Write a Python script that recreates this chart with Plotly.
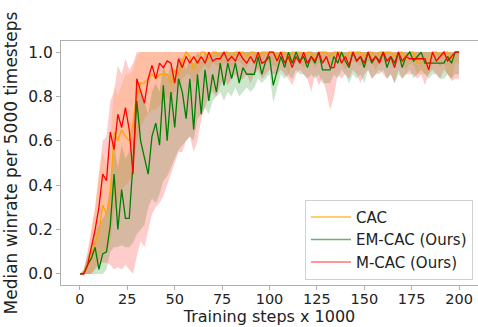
import plotly.graph_objects as go

x_steps = list(range(0, 201, 2))

cac_median = [0, 0, 0.03, 0.08, 0.13, 0.19, 0.31, 0.27, 0.36, 0.64,
              0.6, 0.65, 0.62, 0.6, 0.68, 0.8, 0.86, 0.86, 0.88, 0.9,
              0.88, 0.9, 0.9, 0.9, 0.86, 0.92, 0.9, 0.96, 1.0, 0.98,
              0.92, 0.96, 1.0, 1.0, 0.97, 1.0, 1.0, 0.98, 1.0, 1.0,
              0.97, 1.0, 1.0, 1.0, 0.98, 1.0, 1.0, 0.97, 1.0, 1.0,
              1.0, 1.0, 0.98, 1.0, 1.0, 0.96, 1.0, 1.0, 1.0, 0.98,
              1.0, 1.0, 0.97, 1.0, 1.0, 1.0, 0.98, 1.0, 1.0, 1.0,
              0.97, 1.0, 1.0, 1.0, 1.0, 0.98, 1.0, 1.0, 0.97, 1.0,
              1.0, 1.0, 1.0, 0.98, 1.0, 1.0, 0.97, 1.0, 1.0, 0.95,
              0.95, 0.95, 0.95, 1.0, 1.0, 0.98, 1.0, 1.0, 0.97, 1.0, 1.0]
cac_low = [0, 0, 0, 0, 0.03, 0.06, 0.1, 0.1, 0.14, 0.28,
           0.32, 0.38, 0.4, 0.42, 0.45, 0.6, 0.66, 0.7, 0.72, 0.74,
           0.74, 0.76, 0.78, 0.8, 0.78, 0.82, 0.84, 0.88, 0.9, 0.9,
           0.86, 0.9, 0.92, 0.94, 0.92, 0.95, 0.94, 0.93, 0.95, 0.95,
           0.93, 0.95, 0.96, 0.94, 0.93, 0.96, 0.95, 0.92, 0.95, 0.96,
           0.95, 0.94, 0.93, 0.96, 0.95, 0.9, 0.95, 0.96, 0.95, 0.93,
           0.95, 0.96, 0.93, 0.95, 0.96, 0.95, 0.93, 0.95, 0.96, 0.95,
           0.92, 0.95, 0.96, 0.95, 0.94, 0.93, 0.96, 0.95, 0.92, 0.95,
           0.96, 0.95, 0.95, 0.93, 0.96, 0.95, 0.92, 0.95, 0.94, 0.9,
           0.9, 0.9, 0.9, 0.95, 0.96, 0.93, 0.95, 0.9, 0.88, 0.95, 0.95]
cac_high = [0, 0.02, 0.08, 0.2, 0.3, 0.45, 0.55, 0.5, 0.6, 0.85,
            0.8, 0.85, 0.9, 0.9, 0.92, 0.98, 1.0, 1.0, 1.0, 1.0,
            1.0, 1.0, 1.0, 1.0, 1.0, 1.0, 1.0, 1.0, 1.0, 1.0,
            1.0, 1.0, 1.0, 1.0, 1.0, 1.0, 1.0, 1.0, 1.0, 1.0,
            1.0, 1.0, 1.0, 1.0, 1.0, 1.0, 1.0, 1.0, 1.0, 1.0,
            1.0, 1.0, 1.0, 1.0, 1.0, 1.0, 1.0, 1.0, 1.0, 1.0,
            1.0, 1.0, 1.0, 1.0, 1.0, 1.0, 1.0, 1.0, 1.0, 1.0,
            1.0, 1.0, 1.0, 1.0, 1.0, 1.0, 1.0, 1.0, 1.0, 1.0,
            1.0, 1.0, 1.0, 1.0, 1.0, 1.0, 1.0, 1.0, 1.0, 1.0,
            1.0, 1.0, 1.0, 1.0, 1.0, 1.0, 1.0, 1.0, 1.0, 1.0, 1.0]

emcac_median = [0, 0, 0.04, 0.07, 0.12, 0.02, 0.09, 0.1, 0.22, 0.45,
                0.2, 0.38, 0.25, 0.25, 0.5, 0.78, 0.6, 0.52, 0.45, 0.62,
                0.68, 0.58, 0.85, 0.6, 0.82, 0.66, 0.88, 0.82, 0.7, 0.88,
                0.65, 0.9, 0.72, 0.92, 0.78, 0.9, 0.82, 0.95, 0.85, 0.95,
                0.88, 0.95, 0.86, 0.93, 0.9, 0.9, 0.9, 0.98, 0.9, 0.96,
                0.98, 0.85, 0.92, 0.98, 0.93, 1.0, 0.95, 1.0, 0.96, 0.98,
                0.93, 0.98, 0.95, 1.0, 0.92, 0.92, 0.92, 0.98, 0.95, 1.0,
                0.96, 0.93, 1.0, 0.96, 0.98, 0.93, 1.0, 0.95, 0.98, 0.96,
                1.0, 0.93, 0.98, 0.95, 1.0, 0.93, 0.98, 1.0, 0.96, 0.98,
                1.0, 0.95, 0.95, 0.95, 0.95, 0.95, 0.95, 0.98, 0.95, 1.0, 1.0]
emcac_low = [0, 0, 0, 0, 0, 0, 0, 0.02, 0.1, 0.12,
             0.12, 0.13, 0.12, 0.12, 0.14, 0.18, 0.2, 0.22, 0.3, 0.34,
             0.32, 0.36, 0.42, 0.44, 0.48, 0.52, 0.56, 0.58, 0.6, 0.62,
             0.6, 0.7, 0.72, 0.75, 0.72, 0.78, 0.8, 0.82, 0.78, 0.82,
             0.8, 0.84, 0.8, 0.82, 0.84, 0.82, 0.84, 0.88, 0.86, 0.88,
             0.9, 0.77, 0.84, 0.9, 0.88, 0.9, 0.88, 0.92, 0.9, 0.9,
             0.88, 0.9, 0.88, 0.9, 0.86, 0.86, 0.86, 0.9, 0.88, 0.92,
             0.9, 0.86, 0.9, 0.88, 0.9, 0.86, 0.92, 0.88, 0.9, 0.9,
             0.92, 0.88, 0.9, 0.86, 0.9, 0.88, 0.9, 0.92, 0.88, 0.9,
             0.92, 0.9, 0.88, 0.9, 0.9, 0.88, 0.88, 0.9, 0.88, 0.9, 0.9]
emcac_high = [0, 0.02, 0.08, 0.12, 0.2, 0.22, 0.25, 0.28, 0.4, 0.58,
              0.48, 0.58, 0.52, 0.55, 0.68, 0.88, 0.82, 0.78, 0.72, 0.82,
              0.86, 0.82, 0.95, 0.88, 0.95, 0.9, 0.98, 0.97, 0.92, 0.98,
              0.95, 1.0, 0.96, 1.0, 0.97, 1.0, 1.0, 1.0, 1.0, 1.0,
              1.0, 1.0, 1.0, 1.0, 1.0, 1.0, 1.0, 1.0, 1.0, 1.0,
              1.0, 1.0, 1.0, 1.0, 1.0, 1.0, 1.0, 1.0, 1.0, 1.0,
              1.0, 1.0, 1.0, 1.0, 1.0, 1.0, 1.0, 1.0, 1.0, 1.0,
              1.0, 1.0, 1.0, 1.0, 1.0, 1.0, 1.0, 1.0, 1.0, 1.0,
              1.0, 1.0, 1.0, 1.0, 1.0, 1.0, 1.0, 1.0, 1.0, 1.0,
              1.0, 1.0, 1.0, 1.0, 1.0, 1.0, 1.0, 1.0, 1.0, 1.0, 1.0]

mcac_median = [0, 0, 0.04, 0.12, 0.2, 0.3, 0.45, 0.42, 0.64, 0.56,
               0.72, 0.66, 0.75, 0.65, 0.45, 0.88, 0.82, 0.77, 0.88, 0.94,
               0.88, 0.95, 0.93, 0.96, 0.95, 0.86, 0.97, 0.93, 0.98, 0.95,
               0.98, 0.95, 0.98, 0.95, 1.0, 0.96, 0.97, 0.97, 1.0, 0.96,
               0.98, 0.96, 1.0, 0.97, 0.95, 0.98, 0.95, 1.0, 0.95, 0.96,
               1.0, 1.0, 0.96, 1.0, 0.95, 0.98, 0.93, 0.98, 0.95, 1.0,
               0.95, 0.98, 0.96, 1.0, 0.95, 0.98, 0.93, 0.93, 1.0, 0.95,
               0.98, 0.94, 1.0, 0.96, 0.98, 0.95, 1.0, 0.96, 0.98, 0.95,
               1.0, 0.96, 0.98, 0.93, 1.0, 0.96, 0.98, 0.97, 0.97, 0.97,
               0.97, 0.97, 0.92, 1.0, 0.96, 0.98, 1.0, 0.96, 0.98, 1.0, 1.0]
mcac_low = [0, 0, 0, 0, 0.02, 0.04, 0.05, 0.05, 0.04, 0.02,
            0.03, 0.02, 0.04, 0.02, 0.0, 0.08, 0.15, 0.12, 0.2, 0.27,
            0.3, 0.32, 0.35, 0.4, 0.45, 0.5, 0.55, 0.55, 0.6, 0.62,
            0.55, 0.6, 0.7, 0.75, 0.8, 0.82, 0.8, 0.85, 0.88, 0.85,
            0.88, 0.9, 0.87, 0.88, 0.9, 0.86, 0.9, 0.92, 0.88, 0.9,
            0.92, 0.9, 0.9, 0.92, 0.9, 0.88, 0.85, 0.9, 0.92, 0.9,
            0.88, 0.82, 0.9, 0.85, 0.88, 0.82, 0.74, 0.8, 0.9, 0.88,
            0.9, 0.88, 0.92, 0.9, 0.86, 0.9, 0.92, 0.88, 0.9, 0.92,
            0.9, 0.88, 0.9, 0.86, 0.92, 0.88, 0.9, 0.9, 0.9, 0.88,
            0.9, 0.85, 0.9, 0.92, 0.9, 0.88, 0.92, 0.9, 0.87, 0.88, 0.88]
mcac_high = [0, 0.02, 0.1, 0.2, 0.3, 0.45, 0.6, 0.62, 0.78, 0.82,
             0.94, 0.9, 0.97, 0.92, 0.95, 1.0, 1.0, 1.0, 1.0, 1.0,
             1.0, 1.0, 1.0, 1.0, 1.0, 1.0, 1.0, 1.0, 1.0, 1.0,
             1.0, 1.0, 1.0, 1.0, 1.0, 1.0, 1.0, 1.0, 1.0, 1.0,
             1.0, 1.0, 1.0, 1.0, 1.0, 1.0, 1.0, 1.0, 1.0, 1.0,
             1.0, 1.0, 1.0, 1.0, 1.0, 1.0, 1.0, 1.0, 1.0, 1.0,
             1.0, 1.0, 1.0, 1.0, 1.0, 1.0, 1.0, 1.0, 1.0, 1.0,
             1.0, 1.0, 1.0, 1.0, 1.0, 1.0, 1.0, 1.0, 1.0, 1.0,
             1.0, 1.0, 1.0, 1.0, 1.0, 1.0, 1.0, 1.0, 1.0, 1.0,
             1.0, 1.0, 1.0, 1.0, 1.0, 1.0, 1.0, 1.0, 1.0, 1.0, 1.0]

y_ticks = [0.0, 0.2, 0.4, 0.6, 0.8, 1.0]
x_ticks = [0, 25, 50, 75, 100, 125, 150, 175, 200]

series = [
    ("CAC", cac_median, cac_low, cac_high, "#ffa500", "rgba(255,165,0,0.2)", "rgba(255,165,0,0.75)"),
    ("EM-CAC (Ours)", emcac_median, emcac_low, emcac_high, "#008000", "rgba(0,128,0,0.2)", "rgba(0,128,0,0.6)"),
    ("M-CAC (Ours)", mcac_median, mcac_low, mcac_high, "#ff0000", "rgba(255,0,0,0.2)", "rgba(255,0,0,0.55)"),
]

fig = go.Figure()
for name, med, lo, hi, col, fillc, legc in series:
    fig.add_trace(go.Scatter(x=x_steps, y=lo, mode="lines", line=dict(width=0),
                             showlegend=False, hoverinfo="skip"))
    fig.add_trace(go.Scatter(x=x_steps, y=hi, mode="lines", line=dict(width=0),
                             fill="tonexty", fillcolor=fillc, showlegend=False, hoverinfo="skip"))
for name, med, lo, hi, col, fillc, legc in series:
    fig.add_trace(go.Scatter(x=x_steps, y=med, mode="lines", line=dict(color=col, width=1.3),
                             showlegend=False))
for name, med, lo, hi, col, fillc, legc in series:
    fig.add_trace(go.Scatter(x=[None], y=[None], mode="lines", name=name,
                             line=dict(color=legc, width=1.5), legendgroup=name))

axis_common = dict(showline=True, mirror=True, linecolor="#b0b0b0", linewidth=1,
                   ticks="outside", ticklen=4, tickcolor="#b0b0b0",
                   showgrid=False, zeroline=False)

fig.update_layout(
    width=478, height=327,
    margin=dict(l=61, r=0, t=41, b=42),
    plot_bgcolor="white", paper_bgcolor="white",
    font=dict(family="DejaVu Sans", color="#222"),
    xaxis=dict(range=[-10, 210], tickvals=x_ticks,
               tickfont=dict(family="DejaVu Sans", size=14.5, color="#222"),
               ticklabelstandoff=-3,
               title=dict(text="Training steps x 1000", font=dict(size=16), standoff=2),
               **axis_common),
    yaxis=dict(range=[-0.05, 1.05], tickvals=y_ticks, tickformat=".1f",
               tickfont=dict(family="DejaVu Sans", size=15.5, color="#222"),
               title=dict(text="Median winrate per 5000 timesteps", font=dict(size=17), standoff=6),
               **axis_common),
    legend=dict(x=0.585, y=0.022, xanchor="left", yanchor="bottom",
                bgcolor="white", bordercolor="#d0d0d0", borderwidth=1,
                font=dict(family="DejaVu Sans", size=15, color="#222"),
                tracegroupgap=0, itemwidth=40),
)

fig.write_html("out.html")
